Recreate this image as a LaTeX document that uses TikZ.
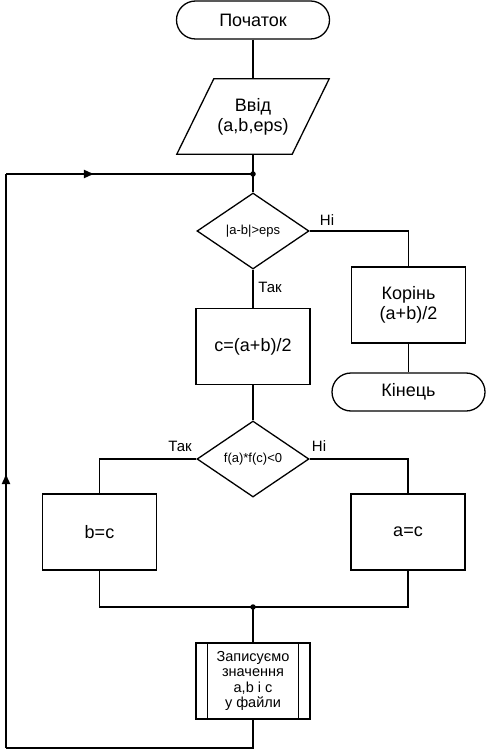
\documentclass[tikz,border=0pt]{standalone}
\usepackage{fontspec}
\setmainfont{Liberation Sans}
\usetikzlibrary{shapes.geometric,arrows.meta,decorations.markings}
\newcommand\fbig{\fontsize{18}{20}\selectfont}
\newcommand\fsmall{\fontsize{13}{15}\selectfont}
\newcommand\flab{\fontsize{15}{17}\selectfont}
\newcommand\fsub{\fontsize{14.5}{15.3}\selectfont}
\begin{document}
\begin{tikzpicture}[x=1pt,y=-1pt,
  line/.style={line width=1.3pt},
  box/.style={draw, line width=1.3pt, minimum width=114pt, minimum height=76pt, inner sep=0pt, align=center, font=\fbig},
  term/.style={draw, line width=1.3pt, rounded corners=19pt, minimum width=153pt, minimum height=38pt, inner sep=0pt, font=\fbig},
  dec/.style={draw, diamond, line width=1.3pt, minimum width=112pt, minimum height=76pt, inner sep=0pt, font=\fsmall},
  dot/.style={circle, fill, inner sep=0pt, minimum size=5.5pt},
  lab/.style={inner sep=0pt, font=\flab},
  tipmark/.style={postaction={decorate}, decoration={markings, mark=at position #1 with {\arrow{Latex[length=11pt,width=9pt]}}}}
]
\useasboundingbox (0,0) rectangle (486,751);
% nodes
\node[term] (start) at (253,20) {Початок};
\node[minimum width=115pt, minimum height=75pt, inner sep=0pt, align=center, font=\fbig] (in) at (253,116.5) {Ввід\\(a,b,eps)};
\draw[line] ([xshift=18.5pt]in.north west) -- ([xshift=18.5pt]in.north east) -- ([xshift=-18.5pt]in.south east) -- ([xshift=-18.5pt]in.south west) -- cycle;
\coordinate (j1) at (253,174);
\node[dec] (d1) at (253,231) {|a-b|>eps};
\node[box] (c) at (253,346.5) {c=(a+b)/2};
\node[box] (root) at (408.5,305) {Корінь\\(a+b)/2};
\node[term] (end) at (408.5,392) {Кінець};
\node[dec] (d2) at (253,459) {f(a)*f(c)<0};
\node[box] (bc) at (99.5,532) {b=c};
\node[box] (ac) at (408,532) {a=c};
\coordinate (j2) at (253,607);
\node[box, font=\fsub] (sub) at (253,681) {Записуємо\\значення\\a,b і c\\у файли};
\draw[line] ([xshift=12pt]sub.north west) -- ([xshift=12pt]sub.south west);
\draw[line] ([xshift=-12pt]sub.north east) -- ([xshift=-12pt]sub.south east);
\coordinate (lb) at (6,748);
\coordinate (lt) at (6,174);
% connectors
\draw[line] (start) -- (in);
\draw[line] (in) -- (j1) -- (d1.north);
\draw[line] (d1.east) -| (root.north);
\draw[line] (d1.south) -- (c.north);
\draw[line] (root) -- (end);
\draw[line] (c) -- (d2.north);
\draw[line] (d2.west) -| (bc.north);
\draw[line] (d2.east) -| (ac.north);
\draw[line] (bc.south) |- (j2) -| (ac.south);
\draw[line] (j2) -- (sub);
\draw[line] (sub.south) |- (lb);
\draw[line, tipmark=0.479] (lb) -- (lt);
\draw[line, tipmark=0.36] (lt) -- (j1);
\node[dot] (j1dot) at (j1) {};
\node[dot] (j2dot) at (j2) {};
% labels
\node[lab] (l1) at (327,220) {Ні};
\node[lab] (l2) at (270,287) {Так};
\node[lab] (l3) at (180,446) {Так};
\node[lab] (l4) at (319,446) {Ні};
\end{tikzpicture}
\end{document}
